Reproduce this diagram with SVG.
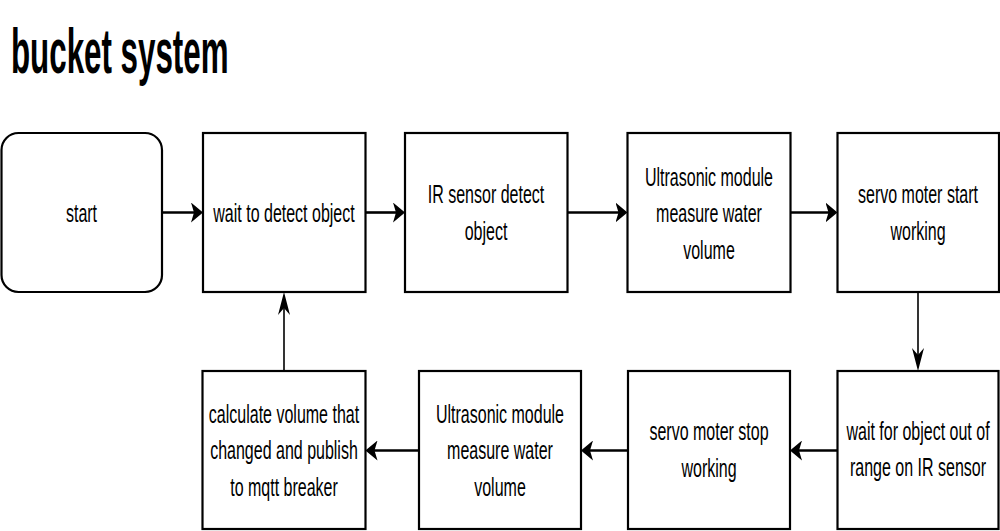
<svg xmlns="http://www.w3.org/2000/svg" width="1000" height="531" viewBox="0 0 1000 531">
<style>
.box{fill:#fff;stroke:#000;stroke-width:2.2}
.t{font-family:"Liberation Sans",Arial,sans-serif;font-size:26.5px;fill:#000;text-anchor:middle}
.title{font-family:"Liberation Sans",Arial,sans-serif;font-size:63px;font-weight:bold;fill:#000}
.ch{fill:none;stroke:#000;stroke-width:2.6;marker-end:url(#ah)}
.cv{fill:none;stroke:#000;stroke-width:1.6;marker-end:url(#av)}
</style>
<defs>
<marker id="ah" markerUnits="userSpaceOnUse" viewBox="0 0 12 20" markerWidth="12" markerHeight="20" refX="4" refY="10" orient="auto"><path d="M0,0 L12,10 L0,20 L3,10 Z" fill="#000"/></marker>
<marker id="av" markerUnits="userSpaceOnUse" viewBox="0 0 23 12" markerWidth="23" markerHeight="12" refX="8" refY="6" orient="auto"><path d="M0,0 L23,6 L0,12 L7,6 Z" fill="#000"/></marker>
</defs>
<rect width="1000" height="531" fill="#fff"/>
<text class="title" transform="translate(11,72.5) scale(0.497,1)">bucket system</text>

<g id="connectors">
<path class="ch" d="M162,212.5 H195"/>
<path class="ch" d="M365.5,212.5 H397"/>
<path class="ch" d="M567.5,212.5 H619.5"/>
<path class="ch" d="M790.5,212.5 H829.5"/>
<path class="cv" d="M918,292 V356"/>
<path class="ch" d="M837.5,450.5 H798"/>
<path class="ch" d="M628,450.5 H589"/>
<path class="ch" d="M419,450.5 H373.5"/>
<path class="cv" d="M284,371 V307"/>
</g>

<g id="n-start"><rect class="box" x="1.5" y="133" width="160.5" height="159" rx="17" ry="17"/><text class="t" transform="translate(81.5,222) scale(0.604,1)">start</text></g>
<g id="n-wait"><rect class="box" x="203" y="133" width="162.5" height="159"/><text class="t" transform="translate(284,222) scale(0.604,1)">wait to detect object</text></g>
<g id="n-ir"><rect class="box" x="405" y="133" width="162.5" height="159"/><text class="t" transform="translate(486,0) scale(0.604,1)"><tspan x="0" y="203.5">IR sensor detect</tspan><tspan x="0" y="240">object</tspan></text></g>
<g id="n-ultra1"><rect class="box" x="627.5" y="133" width="163" height="159"/><text class="t" transform="translate(709,0) scale(0.604,1)"><tspan x="0" y="186.5">Ultrasonic module</tspan><tspan x="0" y="222.5">measure water</tspan><tspan x="0" y="259">volume</tspan></text></g>
<g id="n-servostart"><rect class="box" x="837.5" y="133" width="161.5" height="159"/><text class="t" transform="translate(918,0) scale(0.604,1)"><tspan x="0" y="203.5">servo moter start</tspan><tspan x="0" y="240">working</tspan></text></g>
<g id="n-waitout"><rect class="box" x="837.5" y="371" width="161" height="158"/><text class="t" transform="translate(918,0) scale(0.604,1)"><tspan x="0" y="440">wait for object out of</tspan><tspan x="0" y="476.5">range on IR sensor</tspan></text></g>
<g id="n-servostop"><rect class="box" x="628" y="371" width="162" height="158"/><text class="t" transform="translate(709,0) scale(0.604,1)"><tspan x="0" y="440.5">servo moter stop</tspan><tspan x="0" y="477">working</tspan></text></g>
<g id="n-ultra2"><rect class="box" x="419" y="371" width="162" height="158"/><text class="t" transform="translate(500,0) scale(0.604,1)"><tspan x="0" y="423">Ultrasonic module</tspan><tspan x="0" y="459.5">measure water</tspan><tspan x="0" y="496">volume</tspan></text></g>
<g id="n-calc"><rect class="box" x="202.5" y="371" width="163" height="158"/><text class="t" transform="translate(284,0) scale(0.604,1)"><tspan x="0" y="423">calculate volume that</tspan><tspan x="0" y="459.5">changed and publish</tspan><tspan x="0" y="496">to mqtt breaker</tspan></text></g>
</svg>
